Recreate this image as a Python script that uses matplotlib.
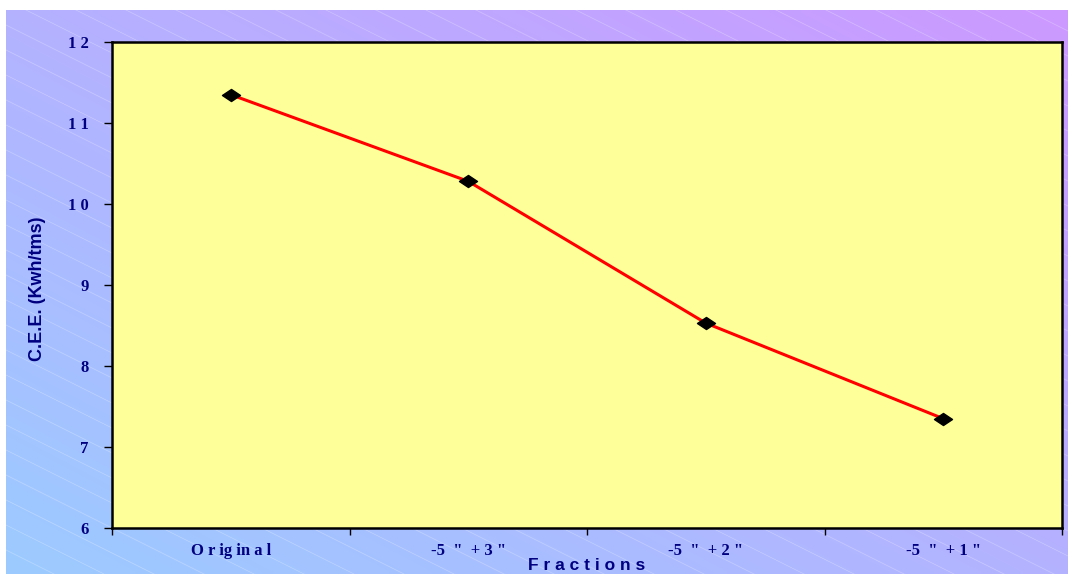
import numpy as np
import matplotlib
matplotlib.use("Agg")
import matplotlib.pyplot as plt
from matplotlib.colors import to_rgb
from matplotlib.path import Path

# Data
categories = ['O r ig in a l', '-5  "  + 3 "', '-5  "  + 2 "', '-5  "  + 1 "']
cee_values = [11.35, 10.28, 8.53, 7.35]
y_ticks = [6, 7, 8, 9, 10, 11, 12]

navy = '#000080'
W, H = 1068, 576

fig = plt.figure(figsize=(W / 100, H / 100), dpi=100)
fig.patch.set_facecolor('white')

# Background: diagonal gradient blue -> purple with faint white hatch lines
bg = fig.add_axes([0, 0, 1, 1], zorder=-1)
bg.axis('off')
x0, x1, y0, y1 = 6, W, 10, 574
xx, yy = np.meshgrid(np.linspace(0, 1, 200), np.linspace(0, 1, 120))
t = (xx + (1 - yy)) / 2
c0 = np.array(to_rgb('#9CCBFF'))
c1 = np.array(to_rgb('#CC99FF'))
img = c0[None, None, :] * (1 - t[..., None]) + c1[None, None, :] * t[..., None]
bg.imshow(img, extent=(x0, x1, y1, y0), aspect='auto', interpolation='bilinear')
bg.set_xlim(0, W)
bg.set_ylim(H, 0)
clip = plt.Rectangle((x0, y0), x1 - x0, y1 - y0, fill=False, lw=0)
bg.add_patch(clip)
for off in np.arange(-600, 700, 25):
    xs = np.array([x0, x1])
    ys = off + 0.5 * (xs - x0)
    ln, = bg.plot(xs, ys, color='white', lw=0.5, alpha=0.3)
    ln.set_clip_path(clip)

# flattened diamond marker like the original
diamond = Path([(-1.5, 0), (0, 1), (1.5, 0), (0, -1), (-1.5, 0)],
               [Path.MOVETO, Path.LINETO, Path.LINETO, Path.LINETO, Path.CLOSEPOLY])

# Main plot
ax = fig.add_axes([112 / W, 1 - 528 / H, 950 / W, 486 / H])
ax.set_facecolor('#FFFF99')
x = np.arange(len(categories))
ax.plot(x, cee_values, color='#FF0000', lw=2.2, zorder=2)
ax.plot(x, cee_values, linestyle='none', marker=diamond, markersize=13,
        markerfacecolor='black', markeredgecolor='black', zorder=3)

ax.set_xlim(-0.5, len(categories) - 0.5)
ax.set_ylim(6, 12)
ax.set_yticks(y_ticks)
ax.set_yticklabels([' '.join(str(v)) for v in y_ticks],
                   fontfamily='Liberation Serif', fontweight='bold',
                   fontsize=12, color=navy)
ax.set_xticks(np.arange(-0.5, len(categories), 1.0))
ax.set_xticklabels([])
ax.set_xticks(x, minor=True)
ax.set_xticklabels(categories, minor=True, fontfamily='Liberation Serif',
                   fontweight='bold', fontsize=12, color=navy)
ax.tick_params(axis='x', which='minor', length=0, pad=11)
ax.tick_params(axis='x', which='major', length=5, width=1, color='black', direction='out')
ax.tick_params(axis='y', length=6, width=1, color='black', direction='out', pad=11)

for side in ['left', 'bottom', 'right', 'top']:
    ax.spines[side].set_color('black')
    ax.spines[side].set_linewidth(1.8)

fig.text(587 / W, 1 - 566 / H, 'F r a c t i o n s', ha='center', va='center',
         fontfamily='Liberation Sans', fontweight='bold', fontsize=12.5, color=navy)
fig.text(37 / W, 1 - 289 / H, 'C.E.E. (Kwh/tms)', ha='center', va='center',
         rotation=90, fontfamily='Liberation Sans', fontweight='bold',
         fontsize=13, color=navy)

fig.savefig('out.png', dpi=100)
